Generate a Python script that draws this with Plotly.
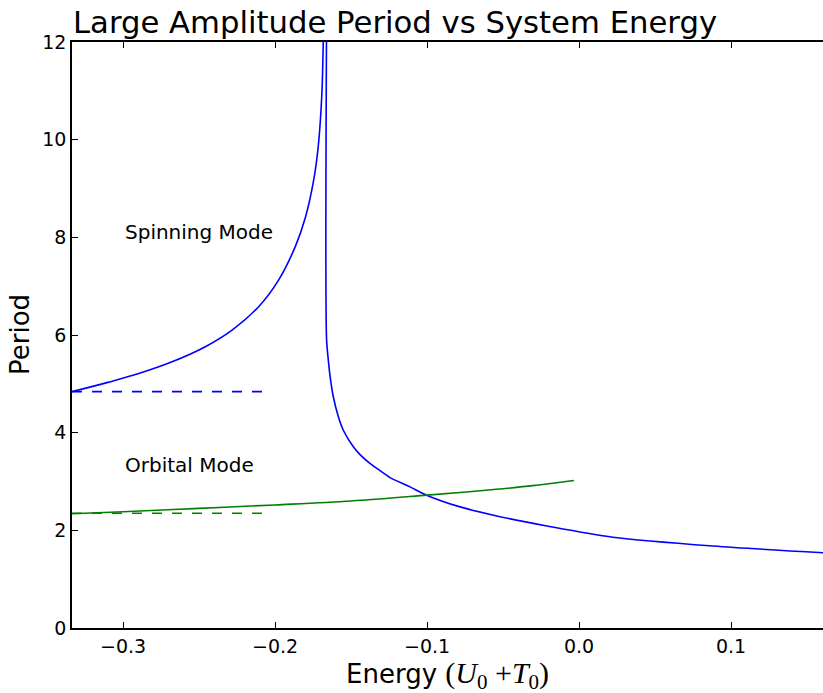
import plotly.graph_objects as go

# Spinning mode, low-energy branch
spin_left_E = [-0.3336, -0.3100, -0.2897, -0.2678, -0.2459, -0.2283, -0.2108, -0.1976,
               -0.1867, -0.1801, -0.1746, -0.1716, -0.1693, -0.1683, -0.1680]
spin_left_P = [4.84, 5.03, 5.21, 5.45, 5.76, 6.10, 6.58, 7.13,
               7.81, 8.40, 9.17, 9.86, 10.88, 11.97, 12.5]

# Spinning mode, high-energy branch
spin_right_E = [-0.1661, -0.1661, -0.1650, -0.1639, -0.1617, -0.1584, -0.1551, -0.1485,
                -0.1441, -0.1376, -0.1266, -0.1244, -0.1112, -0.1003, -0.0783, -0.0520,
                -0.0211, 0.0223, 0.0881, 0.1605]
spin_right_P = [12.5, 5.90, 5.50, 5.18, 4.74, 4.33, 4.05, 3.71,
                3.55, 3.37, 3.13, 3.08, 2.89, 2.72, 2.48, 2.28,
                2.09, 1.86, 1.68, 1.54]

# Orbital mode
orb_E = [-0.3336, -0.30, -0.25, -0.20, -0.15, -0.10, -0.065, -0.032, -0.0034]
orb_P = [2.34, 2.38, 2.45, 2.52, 2.60, 2.72, 2.81, 2.91, 3.02]

# Small-amplitude reference levels
ref_E = [-0.3336, -0.2058]
spin_ref_P = [4.84, 4.84]
orb_ref_P = [2.35, 2.35]

x_ticks = [-0.3, -0.2, -0.1, 0.0, 0.1]
y_ticks = [0, 2, 4, 6, 8, 10, 12]

BLUE = "#0000ff"
GREEN = "#008000"

fig = go.Figure()
fig.add_trace(go.Scatter(x=spin_left_E, y=spin_left_P, mode="lines",
                         line=dict(color=BLUE, width=1.6, shape="spline", smoothing=1)))
fig.add_trace(go.Scatter(x=spin_right_E, y=spin_right_P, mode="lines",
                         line=dict(color=BLUE, width=1.6, shape="spline", smoothing=0.8)))
fig.add_trace(go.Scatter(x=orb_E, y=orb_P, mode="lines",
                         line=dict(color=GREEN, width=1.6, shape="spline", smoothing=1)))
fig.add_trace(go.Scatter(x=ref_E, y=spin_ref_P, mode="lines",
                         line=dict(color=BLUE, width=1.6, dash="10px,10px")))
fig.add_trace(go.Scatter(x=ref_E, y=orb_ref_P, mode="lines",
                         line=dict(color=GREEN, width=1.6, dash="10px,10px")))

fig.update_layout(
    width=823, height=693,
    margin=dict(l=72, r=0, t=42, b=65),
    paper_bgcolor="white", plot_bgcolor="white",
    showlegend=False,
    font=dict(family="DejaVu Sans", color="black", size=19),
    title=dict(text="Large Amplitude Period vs System Energy",
               x=73/823, xanchor="left", xref="container",
               y=1-22/693, yanchor="middle", yref="container",
               font=dict(size=30.7, family="DejaVu Sans", color="black")),
)

fig.update_xaxes(range=[-0.3336, 0.1605], tickvals=x_ticks, tickformat=".1f",
                 showgrid=False, zeroline=False,
                 showline=True, linecolor="black", linewidth=1.5, mirror="ticks",
                 ticks="inside", ticklen=6, tickwidth=1, tickcolor="black",
                 tickfont=dict(size=19))
fig.update_yaxes(range=[0, 12], tickvals=y_ticks,
                 showgrid=False, zeroline=False,
                 showline=True, linecolor="black", linewidth=1.5,
                 ticks="inside", ticklen=6, tickwidth=1, tickcolor="black",
                 tickfont=dict(size=19))

fig.add_annotation(text="Period", xref="paper", yref="paper", x=0, y=0.5,
                   xshift=-52, textangle=-90, showarrow=False,
                   xanchor="center", yanchor="middle", font=dict(size=26))
fig.add_annotation(text='Energy <span style="font-family:\'Liberation Serif\';font-size:30px">(<i>U</i><sub>0</sub> +<i>T</i><sub>0</sub>)</span>',
                   xref="paper", yref="paper", x=0.5, y=0, yshift=-47,
                   showarrow=False, xanchor="center", yanchor="middle",
                   font=dict(size=26))
fig.add_annotation(text="Spinning Mode", x=-0.3, y=8.1, xref="x", yref="y",
                   showarrow=False, xanchor="left", yanchor="middle",
                   font=dict(size=20))
fig.add_annotation(text="Orbital Mode", x=-0.3, y=3.34, xref="x", yref="y",
                   showarrow=False, xanchor="left", yanchor="middle",
                   font=dict(size=20))

fig.write_html("out.html")
